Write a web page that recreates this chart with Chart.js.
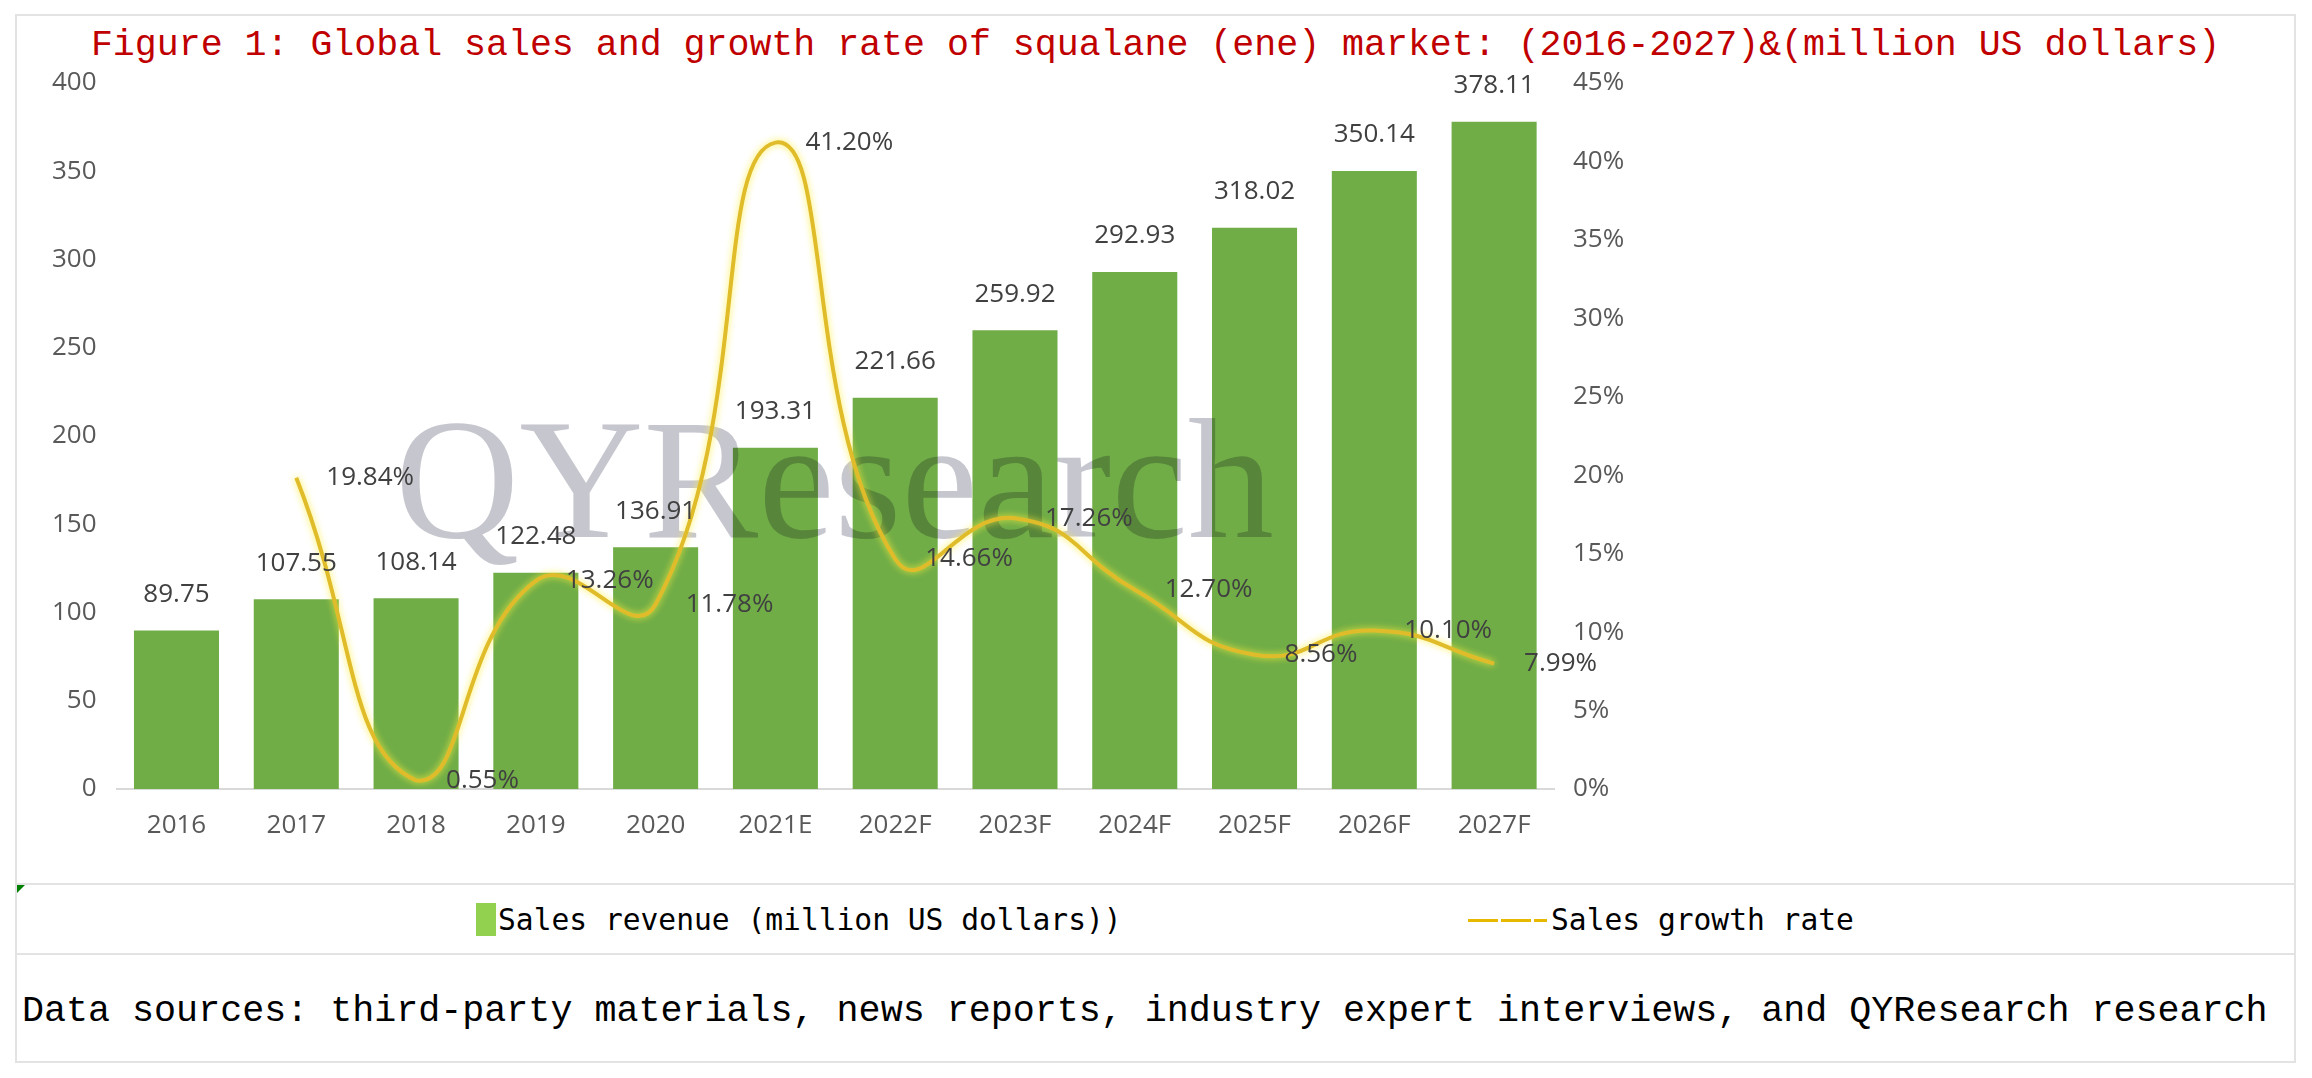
<!DOCTYPE html>
<html lang="en">
<head>
<meta charset="UTF-8">
<title>Squalane market: sales and growth rate</title>
<script src="https://cdn.jsdelivr.net/npm/chart.js"></script>
<style>
  body{margin:0;background:#fff;width:2312px;height:1078px;position:relative;overflow:hidden;}
  .abs{position:absolute;}
  .frame{left:15px;top:14px;width:2281px;height:1049px;border:2px solid #e3e3e3;box-sizing:border-box;}
  .rule{left:15px;width:2281px;height:2px;background:#e3e3e3;}
  .title{left:15px;width:2281px;top:26px;line-height:40px;text-align:center;white-space:nowrap;
         font-family:"Liberation Mono",monospace;font-size:36.6px;color:#c00000;}
  .legtext{top:900px;line-height:40px;white-space:nowrap;font-family:"DejaVu Sans Mono",monospace;font-size:29.6px;color:#000;}
  .source{left:22px;top:991px;line-height:40px;white-space:nowrap;font-family:"Liberation Mono",monospace;font-size:36.7px;color:#000;}
  .tri{left:17px;top:885px;width:0;height:0;border-top:8px solid #008000;border-right:8px solid transparent;}
</style>
</head>
<body>
<div class="abs frame"></div>
<div class="abs rule" style="top:883px"></div>
<div class="abs rule" style="top:953px"></div>
<div class="abs tri"></div>
<div class="abs title">Figure 1: Global sales and growth rate of squalane (ene) market: (2016-2027)&amp;(million US dollars)</div>
<div class="abs" style="left:16px;top:15px;"><canvas id="chart" width="2279" height="868"></canvas></div>

<div class="abs" style="left:476px;top:903px;width:20px;height:33px;background:#92d050;"></div>
<div class="abs legtext" style="left:498px;">Sales revenue (million US dollars))</div>
<div class="abs" style="left:1468px;top:919px;width:79px;height:3px;background:repeating-linear-gradient(to right,#e6b800 0 30px,transparent 30px 33px);"></div>
<div class="abs legtext" style="left:1551px;">Sales growth rate</div>

<div class="abs source">Data sources: third-party materials, news reports, industry expert interviews, and QYResearch research</div>

<script>
const years = ['2016','2017','2018','2019','2020','2021E','2022F','2023F','2024F','2025F','2026F','2027F'];
const salesRevenue = [89.75,107.55,108.14,122.48,136.91,193.31,221.66,259.92,292.93,318.02,350.14,378.11];
const growthRate = [null,19.84,0.55,13.26,11.78,41.20,14.66,17.26,12.70,8.56,10.10,7.99];
const revenueTicks = [0,50,100,150,200,250,300,350,400];
const rateTicks = [0,5,10,15,20,25,30,35,40,45];

const tickFont = {family:'Open Sans', size:26};

// watermark behind the line, labels on top of everything
const decorations = {
  id:'decorations',
  beforeDatasetDraw(chart, args){
    if(args.index===1){
      chart.ctx.save();
      chart.ctx.shadowColor='rgba(255,238,60,0.9)';
      chart.ctx.shadowBlur=7;
    }
  },
  afterDatasetDraw(chart, args){
    const ctx=chart.ctx;
    if(args.index===1){ ctx.restore(); }
    if(args.index===0){
      ctx.save();
      ctx.globalCompositeOperation='multiply';
      ctx.fillStyle='rgb(198,198,206)';
      ctx.font='172px "Liberation Serif"';
      ctx.textBaseline='alphabetic';
      ctx.fillText('QYResearch',379,522);
      ctx.restore();
    }
  },
  afterDatasetsDraw(chart){
    const ctx=chart.ctx;
    ctx.save();
    ctx.font='26px "Open Sans"';
    ctx.fillStyle='#404040';
    ctx.textBaseline='middle';
    ctx.textAlign='center';
    chart.getDatasetMeta(0).data.forEach((bar,i)=>{
      ctx.fillText(salesRevenue[i].toFixed(2), bar.x, bar.y-36);
    });
    ctx.textAlign='left';
    chart.getDatasetMeta(1).data.forEach((pt,i)=>{
      if(growthRate[i]===null) return;
      ctx.fillText(growthRate[i].toFixed(2)+'%', pt.x+30, pt.y);
    });
    ctx.restore();
  }
};

new Chart(document.getElementById('chart').getContext('2d'), {
  type:'bar',
  data:{
    labels:years,
    datasets:[
      {
        type:'bar',
        label:'Sales revenue (million US dollars))',
        data:salesRevenue,
        backgroundColor:'#70ad47',
        categoryPercentage:1,
        barPercentage:0.71,
        yAxisID:'y',
        order:1
      },
      {
        type:'line',
        label:'Sales growth rate',
        data:growthRate,
        borderColor:'#e0bc2a',
        borderWidth:4,
        pointRadius:0,
        tension:0.5,
        fill:false,
        yAxisID:'y1',
        order:0
      }
    ]
  },
  options:{
    responsive:false,
    animation:false,
    layout:{padding:{top:68,left:0,right:0,bottom:0}},
    plugins:{legend:{display:false},tooltip:{enabled:false}},
    scales:{
      x:{
        grid:{display:false,drawTicks:false},
        border:{display:true,color:'#d9d9d9',width:2},
        ticks:{color:'#595959',font:tickFont,padding:21,maxRotation:0,autoSkip:false},
        afterFit(s){ s.height=94; }
      },
      y:{
        position:'left',
        min:revenueTicks[0],
        max:revenueTicks[revenueTicks.length-1],
        ticks:{stepSize:revenueTicks[1]-revenueTicks[0],color:'#595959',font:tickFont,padding:20},
        grid:{display:false,drawTicks:false},
        border:{display:false},
        afterFit(s){ s.width=100.6; }
      },
      y1:{
        position:'right',
        min:rateTicks[0],
        max:rateTicks[rateTicks.length-1],
        ticks:{stepSize:rateTicks[1]-rateTicks[0],color:'#595959',font:tickFont,padding:19,callback:v=>v+'%'},
        grid:{display:false,drawTicks:false},
        border:{display:false},
        afterFit(s){ s.width=741; }
      }
    }
  },
  plugins:[decorations]
});
</script>
</body>
</html>
